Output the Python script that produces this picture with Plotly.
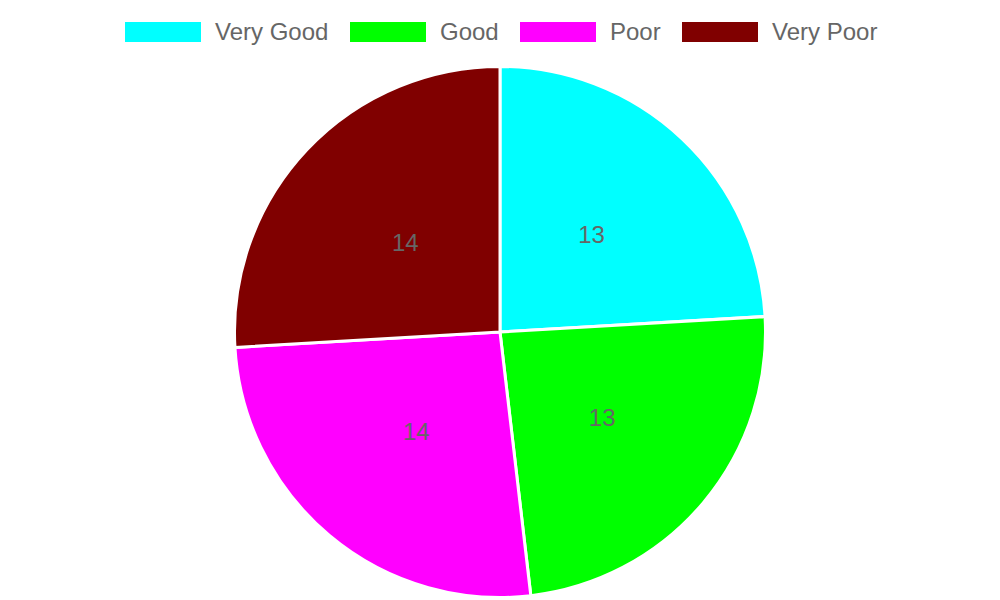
import plotly.graph_objects as go

labels = ["Very Good", "Good", "Poor", "Very Poor"]
values = [13, 13, 14, 14]
colors = ["#00FFFF", "#00FF00", "#FF00FF", "#800000"]

FONT = "Liberation Sans, Arial, sans-serif"
# page is rendered with an 8px body margin; positions below are in figure px
OFF = 8
W, H = 1000, 600
cx, cy, R = 500 - OFF, 332 - OFF, 265.5
R_TXT = 225  # smaller transparent pie used only to place the value labels at mid-radius


def dom(r):
    return dict(x=[(cx - r) / W, (cx + r) / W], y=[1 - (cy + r) / H, 1 - (cy - r) / H])


fig = go.Figure()
fig.add_trace(go.Pie(
    labels=labels, values=values, sort=False, direction="clockwise", rotation=0,
    marker=dict(colors=colors, line=dict(color="white", width=3)),
    textinfo="none", hoverinfo="label+value", showlegend=False, domain=dom(R),
))
fig.add_trace(go.Pie(
    labels=labels, values=values, sort=False, direction="clockwise", rotation=0,
    marker=dict(colors=["rgba(0,0,0,0)"] * len(labels), line=dict(width=0)),
    texttemplate="%{value}", textposition="inside", insidetextorientation="horizontal",
    textfont=dict(color="#666666", size=24, family=FONT),
    hoverinfo="skip", showlegend=False, domain=dom(R_TXT),
))

# Legend drawn as boxes + text (Chart.js style)
box_x = [125, 350, 520, 682]
for lab, col, x0 in zip(labels, colors, box_x):
    x0 -= OFF
    fig.add_shape(type="rect", xref="paper", yref="paper",
                  x0=x0 / W, x1=(x0 + 76) / W, y0=1 - (42 - OFF) / H, y1=1 - (22 - OFF) / H,
                  fillcolor=col, line=dict(width=0))
    fig.add_annotation(xref="paper", yref="paper", x=(x0 + 88) / W, y=1 - (31 - OFF) / H,
                       text=lab, showarrow=False, xanchor="left", yanchor="middle",
                       font=dict(color="#666666", size=24, family=FONT))

fig.update_layout(
    width=W, height=H,
    margin=dict(l=0, r=0, t=0, b=0),
    paper_bgcolor="white", plot_bgcolor="white",
)
fig.write_html("out.html")
